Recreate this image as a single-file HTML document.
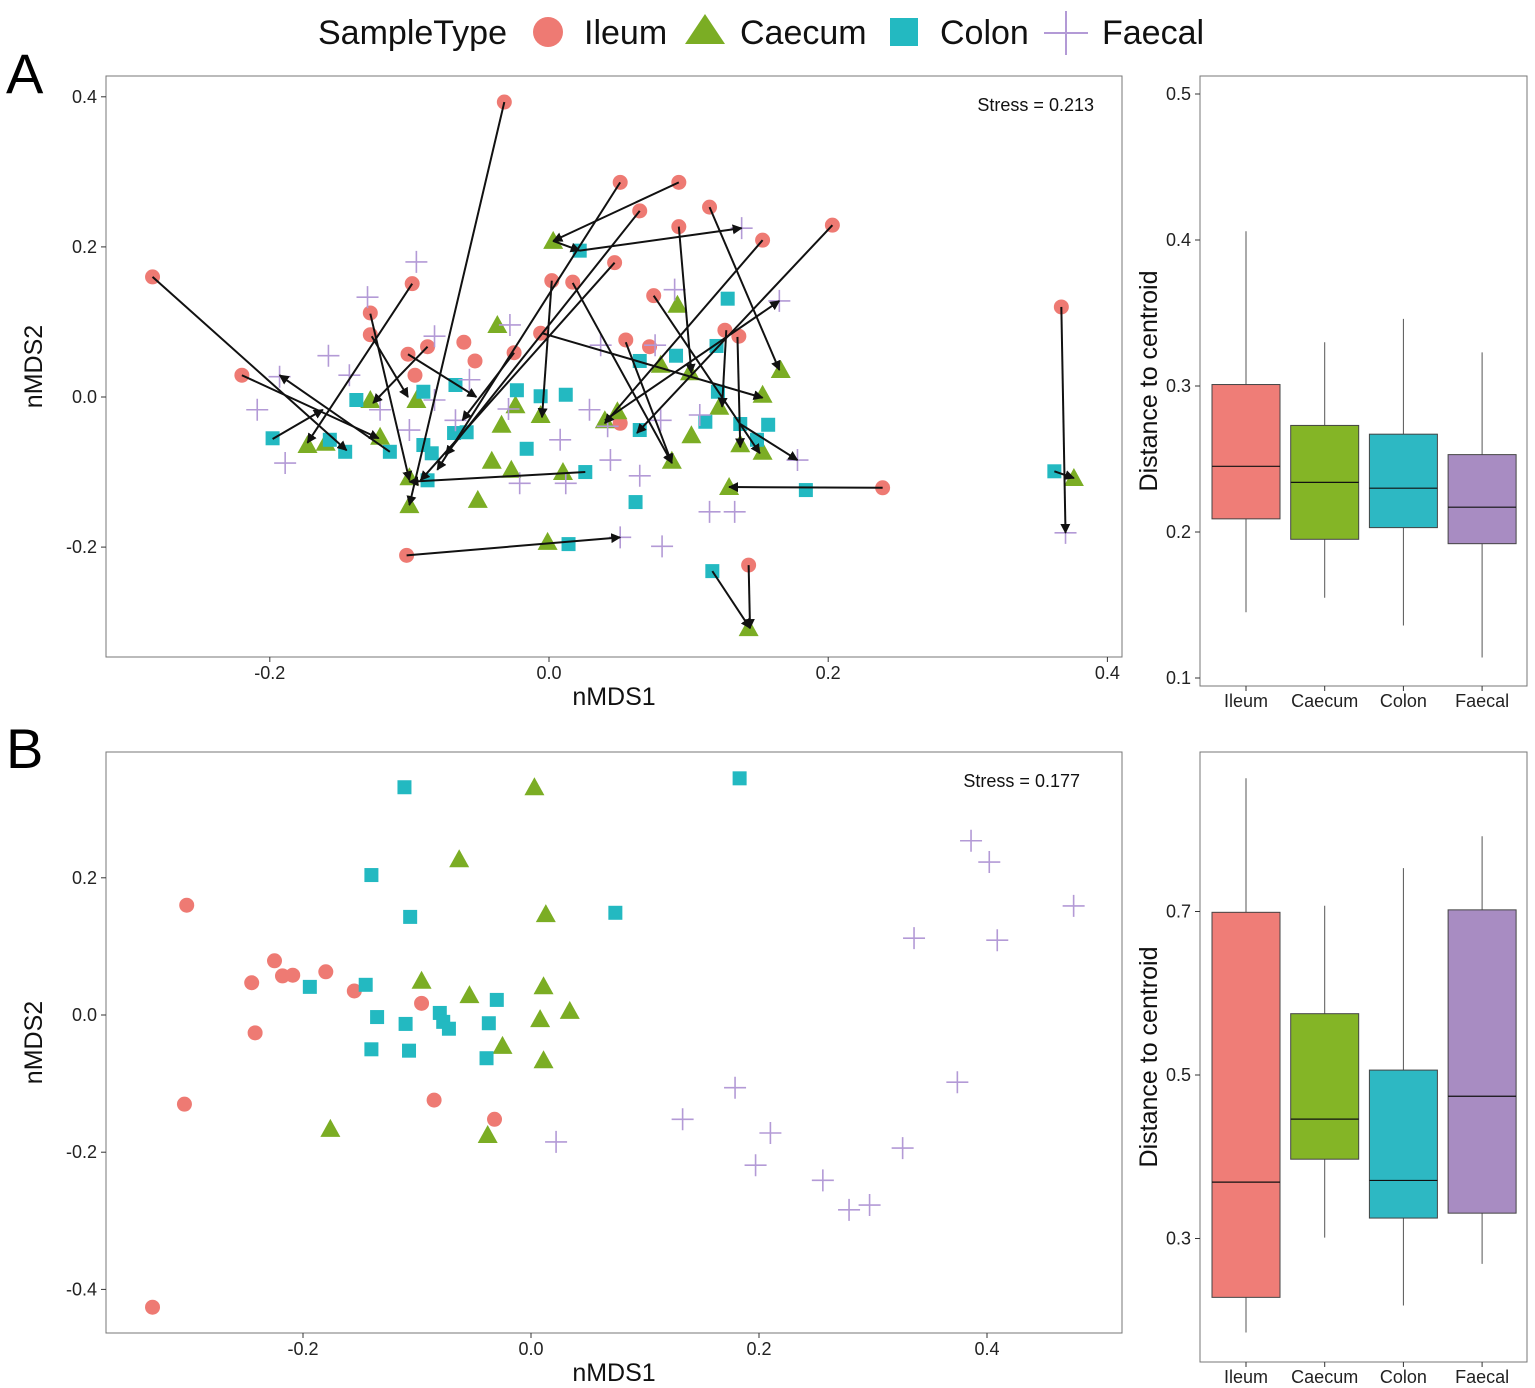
<!DOCTYPE html>
<html><head><meta charset="utf-8">
<style>
html,body{margin:0;padding:0;background:#fff;}
svg{display:block;font-family:"Liberation Sans",Arial,sans-serif;}
</style></head>
<body>
<svg id="chart" width="1535" height="1388" viewBox="0 0 1535 1388" xmlns="http://www.w3.org/2000/svg">
<defs>
<marker id="ah" viewBox="0 0 10 10" refX="9" refY="5" markerWidth="5" markerHeight="5" orient="auto"><path d="M0,0 L10,5 L0,10 z" fill="#111"/></marker>
</defs>
<g font-size="34" fill="#111">
<text x="318" y="44">SampleType</text>
<circle cx="548" cy="32" r="15" fill="#EE7A73"/>
<text x="584" y="44">Ileum</text>
<polygon points="705,14 725,44 685,44" fill="#7BAD24"/>
<text x="740" y="44">Caecum</text>
<rect x="890" y="18" width="28" height="28" fill="#23B9C1"/>
<text x="940" y="44">Colon</text>
<path d="M1044,33 H1088 M1066,11 V55" stroke="#B39AD6" stroke-width="2"/>
<text x="1102" y="44">Faecal</text>
</g>
<text x="6" y="93" font-size="56">A</text>
<text x="6" y="768" font-size="56">B</text>
<g id="root"></g>
</svg>
<script>
// ---------- Panel A scatter data (nMDS1, nMDS2) ----------
const aIleumX=[-0.032,0.051,0.093,0.065,0.115,0.153,0.203,-0.284,-0.098,-0.128,0.002,0.017,0.047,-0.128,-0.220,-0.101,-0.087,-0.061,-0.053,-0.025,-0.006,0.075,0.093,0.126,0.136,0.055,0.072,0.367,0.239,-0.102,0.143,-0.096,0.051];
const aIleumY=[0.393,0.286,0.286,0.248,0.253,0.209,0.229,0.160,0.151,0.112,0.155,0.153,0.179,0.083,0.029,0.057,0.067,0.073,0.048,0.059,0.085,0.135,0.227,0.089,0.081,0.076,0.067,0.120,-0.121,-0.211,-0.224,0.029,-0.035];
const aCaecumX=[0.003,-0.037,0.092,0.166,0.101,0.153,0.080,0.049,0.040,0.122,0.102,0.137,0.153,0.088,0.129,0.010,-0.027,-0.041,-0.051,-0.100,-0.100,-0.128,-0.160,-0.173,-0.121,-0.095,-0.024,-0.034,-0.006,0.376,-0.001,0.143];
const aCaecumY=[0.208,0.096,0.123,0.036,0.033,0.003,0.043,-0.019,-0.031,-0.013,-0.051,-0.063,-0.073,-0.085,-0.120,-0.100,-0.097,-0.085,-0.137,-0.144,-0.107,-0.004,-0.061,-0.064,-0.053,-0.004,-0.011,-0.037,-0.024,-0.108,-0.193,-0.308];
const aColonX=[0.022,0.128,0.120,0.091,0.065,0.121,0.137,0.157,0.112,0.149,-0.198,-0.157,-0.146,-0.114,-0.090,-0.090,-0.138,-0.059,-0.084,-0.068,-0.023,0.012,-0.006,-0.016,0.026,0.062,0.184,0.014,0.117,0.362,0.065,-0.087,-0.067];
const aColonY=[0.195,0.131,0.068,0.055,0.048,0.007,-0.036,-0.037,-0.033,-0.057,-0.055,-0.057,-0.073,-0.073,-0.064,0.007,-0.004,-0.047,-0.075,-0.048,0.009,0.003,0.001,-0.069,-0.100,-0.140,-0.124,-0.196,-0.232,-0.099,-0.044,-0.111,0.016];
const aFaecalX=[-0.095,-0.130,-0.158,-0.209,-0.189,-0.082,-0.028,-0.029,-0.067,-0.143,-0.193,0.138,0.165,0.037,0.076,0.090,0.044,-0.021,0.012,0.042,0.178,0.115,0.133,0.051,0.081,0.370,0.065,0.080,0.108,-0.057,0.029,-0.082,-0.121,-0.100,0.008];
const aFaecalY=[0.180,0.133,0.055,-0.017,-0.088,0.081,0.096,-0.016,-0.031,0.029,0.027,0.225,0.128,0.069,0.069,0.143,-0.084,-0.115,-0.115,-0.039,-0.084,-0.153,-0.153,-0.187,-0.199,-0.181,-0.105,-0.031,-0.024,0.023,-0.017,-0.004,-0.017,-0.044,-0.057];
// arrows: from (x1,y1) to (x2,y2)
const arrX1=[-0.284,-0.032,0.051,0.093,0.003,0.022,0.065,0.115,0.093,0.153,0.203,0.047,0.002,0.017,0.075,0.127,0.135,-0.005,0.055,0.367,0.362,0.239,-0.102,0.143,0.117,-0.220,-0.098,-0.128,-0.127,-0.101,-0.087,-0.198,0.026,-0.025,0.137,-0.114,0.040];
const arrY1=[0.160,0.393,0.286,0.286,0.208,0.195,0.248,0.253,0.227,0.209,0.229,0.179,0.155,0.152,0.135,0.089,0.080,0.085,0.073,0.120,-0.099,-0.121,-0.211,-0.224,-0.232,0.029,0.151,0.111,0.081,0.057,0.067,-0.056,-0.100,0.059,-0.036,-0.073,-0.031];
const arrX2=[-0.145,-0.100,-0.080,0.003,0.022,0.138,-0.074,0.165,0.102,0.040,0.063,-0.092,-0.005,0.088,0.151,0.124,0.137,0.153,0.088,0.370,0.376,0.129,0.051,0.144,0.144,-0.122,-0.173,-0.100,-0.101,-0.052,-0.126,-0.162,-0.100,-0.062,0.178,-0.193,0.165];
const arrY2=[-0.071,-0.144,-0.097,0.208,0.195,0.225,-0.077,0.036,0.032,-0.035,-0.048,-0.111,-0.027,-0.088,-0.075,-0.013,-0.067,-0.001,-0.088,-0.181,-0.108,-0.120,-0.187,-0.308,-0.308,-0.055,-0.061,-0.111,0.000,0.000,-0.008,-0.017,-0.113,-0.031,-0.084,0.029,0.128];
const aXTicks=[-0.2,0.0,0.2,0.4];
const aYTicks=[-0.2,0.0,0.2,0.4];
const aXTickLabels=["-0.2","0.0","0.2","0.4"];
const aYTickLabels=["-0.2","0.0","0.2","0.4"];

// ---------- Panel B scatter data ----------
const bIleumX=[-0.302,-0.332,-0.304,-0.245,-0.242,-0.225,-0.218,-0.209,-0.180,-0.155,-0.096,-0.085,-0.032];
const bIleumY=[0.160,-0.426,-0.130,0.047,-0.026,0.079,0.057,0.058,0.063,0.035,0.017,-0.124,-0.152];
const bCaecumX=[0.003,-0.063,0.013,-0.096,-0.054,0.011,0.008,-0.025,0.011,0.034,-0.176,-0.038];
const bCaecumY=[0.332,0.227,0.147,0.050,0.029,0.042,-0.006,-0.045,-0.066,0.006,-0.166,-0.175];
const bColonX=[-0.111,0.183,-0.140,-0.106,0.074,-0.194,-0.145,-0.135,-0.080,-0.030,-0.110,-0.077,-0.072,-0.037,-0.140,-0.107,-0.039];
const bColonY=[0.332,0.345,0.204,0.143,0.149,0.041,0.044,-0.003,0.003,0.022,-0.013,-0.010,-0.020,-0.012,-0.050,-0.052,-0.063];
const bFaecalX=[0.386,0.402,0.476,0.336,0.409,0.374,0.179,0.133,0.210,0.022,0.197,0.326,0.256,0.279,0.297];
const bFaecalY=[0.254,0.223,0.159,0.112,0.109,-0.098,-0.106,-0.152,-0.172,-0.185,-0.219,-0.194,-0.241,-0.284,-0.277];
const bXTicks=[-0.2,0.0,0.2,0.4];
const bYTicks=[-0.4,-0.2,0.0,0.2];
const bXTickLabels=["-0.2","0.0","0.2","0.4"];
const bYTickLabels=["-0.4","-0.2","0.0","0.2"];

// ---------- Boxplot data ----------
const boxCats=["Ileum","Caecum","Colon","Faecal"];
const boxAMin=[0.145,0.155,0.136,0.114];
const boxAQ1=[0.209,0.195,0.203,0.192];
const boxAMed=[0.245,0.234,0.230,0.217];
const boxAQ3=[0.301,0.273,0.267,0.253];
const boxAMax=[0.406,0.330,0.346,0.323];
const boxATicks=[0.1,0.2,0.3,0.4,0.5];
const boxATickLabels=["0.1","0.2","0.3","0.4","0.5"];
const boxBMin=[0.185,0.301,0.218,0.269];
const boxBQ1=[0.228,0.397,0.325,0.331];
const boxBMed=[0.369,0.446,0.371,0.474];
const boxBQ3=[0.699,0.575,0.506,0.702];
const boxBMax=[0.863,0.707,0.753,0.792];
const boxBTicks=[0.3,0.5,0.7];
const boxBTickLabels=["0.3","0.5","0.7"];

const COLS=["#EE7A73","#7BAD24","#23B9C1","#B39AD6"];
const BOXCOLS=["#EF7D77","#84B526","#2DB8C3","#A88CC2"];
const NS="http://www.w3.org/2000/svg";
const root=document.getElementById('root');
function mk(tag,attrs,parent){const e=document.createElementNS(NS,tag);for(const k in attrs)e.setAttribute(k,attrs[k]);(parent||root).appendChild(e);return e;}

const sxA=v=>549+v*1396, syA=v=>397-v*750.5;
const sxB=v=>531+v*1140, syB=v=>1015-v*686;
const byA=v=>532-(v-0.2)*1460;
const byB=v=>1075-(v-0.5)*817.5;
const bx=i=>1246+i*78.7;

function marker(kind,x,y,g){
  let e;
  if(kind===0){e=mk('circle',{cx:x,cy:y,r:7.5,fill:COLS[0]},g);
    }
  else if(kind===1){e=mk('polygon',{points:`${x},${y-10} ${x+10},${y+8} ${x-10},${y+8}`,fill:COLS[1]},g);
    }
  else if(kind===2){e=mk('rect',{x:x-7,y:y-7,width:14,height:14,fill:COLS[2]},g);
    }
  else {e=mk('path',{d:`M${x-11},${y}H${x+11}M${x},${y-11}V${y+11}`,stroke:COLS[3],'stroke-width':1.6,fill:'none'},g);
    }
  
}

function scatterPanel(name,x0,y0,x1,y1,sx,sy,xt,xtl,yt,ytl,groups,stress,stressX,arrows){
  const g=mk('g',{});
  
  
  const fr=mk('rect',{x:x0,y:y0,width:x1-x0,height:y1-y0,fill:'none',stroke:'#777','stroke-width':1},g);
  
  
  xt.forEach((v,i)=>{const X=sx(v);
    mk('line',{x1:X,x2:X,y1:y1,y2:y1+5,stroke:'#333'},g);
    const t=mk('text',{x:X,y:y1+22,'font-size':18,'text-anchor':'middle',fill:'#222'},g);t.textContent=xtl[i];
    
    });
  yt.forEach((v,i)=>{const Y=sy(v);
    mk('line',{x1:x0-5,x2:x0,y1:Y,y2:Y,stroke:'#333'},g);
    const t=mk('text',{x:x0-9,y:Y+6,'font-size':18,'text-anchor':'end',fill:'#222'},g);t.textContent=ytl[i];
    
    });
  const xtit=mk('text',{x:(x0+x1)/2,y:y1+48,'font-size':25,'text-anchor':'middle',fill:'#111'},g);xtit.textContent='nMDS1';
  
  
  const ytit=mk('text',{x:0,y:0,'font-size':25,'text-anchor':'middle',fill:'#111',transform:`translate(42,${(y0+y1)/2}) rotate(-90)`},g);ytit.textContent='nMDS2';
  
  
  const st=mk('text',{x:stressX,y:y0+35,'font-size':18,'text-anchor':'end',fill:'#111'},g);st.textContent=stress;
  
  
  groups.forEach((gr,k)=>{gr[0].forEach((v,i)=>marker(k,sx(v),sy(gr[1][i]),g));});
  if(arrows){for(let i=0;i<arrows[0].length;i++){
    const l=mk('line',{x1:sx(arrows[0][i]),y1:sy(arrows[1][i]),x2:sx(arrows[2][i]),y2:sy(arrows[3][i]),stroke:'#111','stroke-width':2,'marker-end':'url(#ah)'},g);
    
    }}
}

function boxPanel(name,x0,y0,x1,y1,sy,ticks,tl,mn,q1,md,q3,mx){
  const g=mk('g',{});
  
  
  const fr=mk('rect',{x:x0,y:y0,width:x1-x0,height:y1-y0,fill:'none',stroke:'#777','stroke-width':1},g);
  
  
  ticks.forEach((v,i)=>{const Y=sy(v);
    mk('line',{x1:x0-5,x2:x0,y1:Y,y2:Y,stroke:'#333'},g);
    const t=mk('text',{x:x0-9,y:Y+6,'font-size':18,'text-anchor':'end',fill:'#222'},g);t.textContent=tl[i];
    
    });
  const yt=mk('text',{x:0,y:0,'font-size':25,'text-anchor':'middle',fill:'#111',transform:`translate(1157,${(y0+y1)/2}) rotate(-90)`},g);yt.textContent='Distance to centroid';
  
  
  boxCats.forEach((c,i)=>{const X=bx(i);
    mk('line',{x1:X,x2:X,y1:sy(mx[i]),y2:sy(mn[i]),stroke:'#555','stroke-width':1},g);
    const b=mk('rect',{x:X-34,y:sy(q3[i]),width:68,height:sy(q1[i])-sy(q3[i]),fill:BOXCOLS[i],stroke:'#444','stroke-width':1},g);
    
    
    mk('line',{x1:X-34,x2:X+34,y1:sy(md[i]),y2:sy(md[i]),stroke:'#111','stroke-width':1.2},g);
    mk('line',{x1:X,x2:X,y1:y1,y2:y1+5,stroke:'#333'},g);
    const t=mk('text',{x:X,y:y1+21,'font-size':18,'text-anchor':'middle',fill:'#222'},g);t.textContent=c;
    
    });
}

scatterPanel('nmds-plot-a',106,76,1122,657,sxA,syA,aXTicks,aXTickLabels,aYTicks,aYTickLabels,
  [[aIleumX,aIleumY],[aCaecumX,aCaecumY],[aColonX,aColonY],[aFaecalX,aFaecalY]],'Stress = 0.213',1094,[arrX1,arrY1,arrX2,arrY2]);
scatterPanel('nmds-plot-b',106,752,1122,1333,sxB,syB,bXTicks,bXTickLabels,bYTicks,bYTickLabels,
  [[bIleumX,bIleumY],[bCaecumX,bCaecumY],[bColonX,bColonY],[bFaecalX,bFaecalY]],'Stress = 0.177',1080,null);
boxPanel('boxplot-a',1200,76,1527,686,byA,boxATicks,boxATickLabels,boxAMin,boxAQ1,boxAMed,boxAQ3,boxAMax);
boxPanel('boxplot-b',1200,752,1527,1362,byB,boxBTicks,boxBTickLabels,boxBMin,boxBQ1,boxBMed,boxBQ3,boxBMax);
</script>
</body></html>
